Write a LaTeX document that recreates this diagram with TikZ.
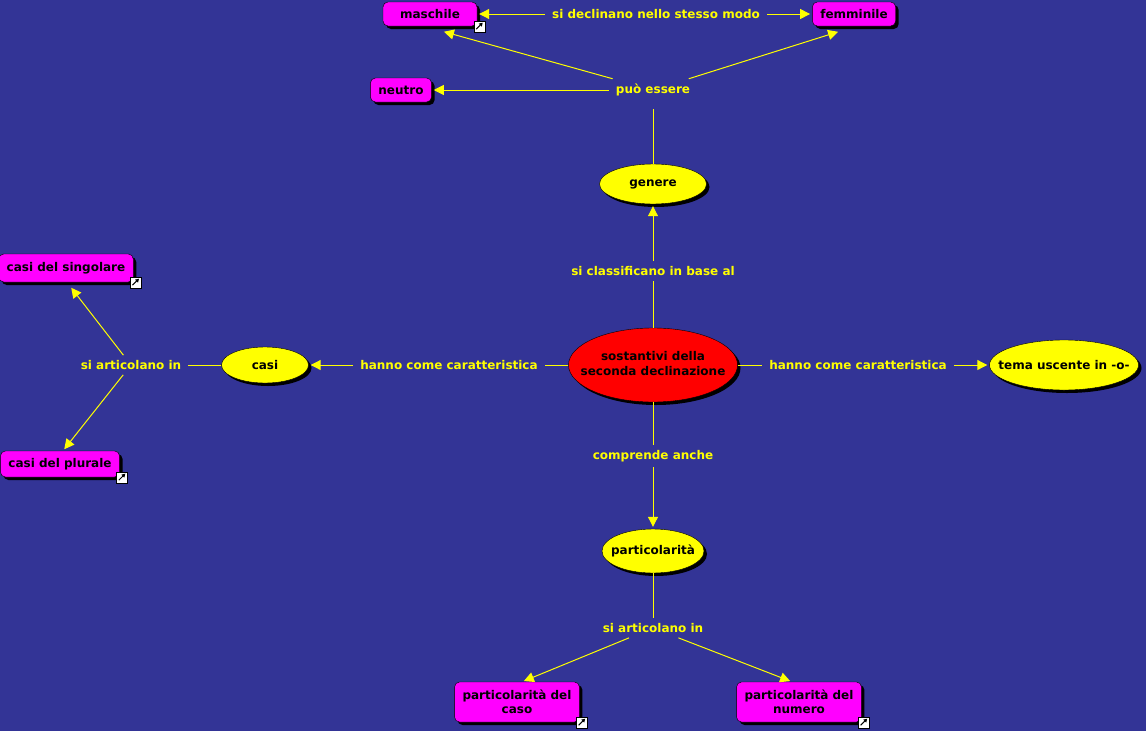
\documentclass[tikz,border=0pt]{standalone}
\usepackage{fontspec}
\setmainfont{DejaVu Sans}
\usetikzlibrary{shapes,arrows.meta,positioning,shadows}
\definecolor{cmapbg}{RGB}{51,52,150}
\definecolor{cmapyellow}{RGB}{255,255,0}
\definecolor{cmapmagenta}{RGB}{255,0,255}
\definecolor{cmapred}{RGB}{255,0,0}
\tikzstyle{cmapshadow} = [drop shadow={shadow xshift=3pt, shadow yshift=-3pt, fill=black, opacity=1}]
\tikzstyle{cbox} = [rectangle, draw=black, fill=cmapmagenta, rounded corners=5pt,
    inner xsep=8pt, inner ysep=4pt, minimum height=24pt, align=center, cmapshadow]
\tikzstyle{oval} = [ellipse, draw=black, fill=cmapyellow, inner sep=0pt, cmapshadow,
    execute at begin node={\hbox to 0pt\bgroup\hss}, execute at end node={\hss\egroup}]
\tikzstyle{phrase} = [text=cmapyellow, inner xsep=7pt, inner ysep=5pt]
\tikzstyle{link} = [draw=cmapyellow, line width=1pt]
\tikzstyle{line} = [link, -{Triangle[length=10pt,width=10pt]}, shorten >=2pt]
\tikzstyle{linkicon} = [rectangle, draw=black, fill=white, minimum size=11pt, inner sep=0pt,
    path picture={\draw[black, line width=1pt, -{Triangle[length=3.5pt,width=4pt]}]
      ([shift={(2.5pt,2.5pt)}]path picture bounding box.south west) --
      ([shift={(-2pt,-2pt)}]path picture bounding box.north east);}]

\begin{document}
\begin{tikzpicture}[x=1pt, y=-1pt, on grid, font=\fontsize{12}{14.5}\selectfont\bfseries]
    \useasboundingbox (0,0) rectangle (1146,731);
    \fill[cmapbg] (0,0) rectangle (1146,731);
    % Place nodes
    \node [oval, fill=cmapred, minimum width=169pt, minimum height=74pt] (sost) at (653,365)
      {\begin{tabular}{@{}c@{}}sostantivi della\\seconda declinazione\end{tabular}};
    \node [phrase, above=94pt of sost] (classif) {si classificano in base al};
    \node [oval, above=181pt of sost, minimum width=107pt, minimum height=40pt] (genere) {genere};
    \node [phrase, above=94pt of genere] (puo) {può essere};
    \node [cbox, left=252pt of puo] (neutro) {neutro};
    \node [cbox, above left=76pt and 223pt of puo, minimum width=94pt] (maschile) {maschile};
    \node [cbox, above right=76pt and 201pt of puo] (femminile) {femminile};
    \node [phrase, right=226pt of maschile] (decl) {si declinano nello stesso modo};
    \node [phrase, left=204pt of sost] (hannoL) {hanno come caratteristica};
    \node [oval, left=184pt of hannoL, minimum width=87pt, minimum height=36pt] (casi) {casi};
    \node [phrase, left=134pt of casi] (articL) {si articolano in};
    \node [cbox, above left=97pt and 65pt of articL, minimum height=28pt] (singolare) {casi del singolare};
    \node [cbox, below left=99pt and 71pt of articL, minimum height=26pt] (plurale) {casi del plurale};
    \node [phrase, right=205pt of sost] (hannoR) {hanno come caratteristica};
    \node [oval, right=206pt of hannoR, minimum width=149pt, minimum height=50pt] (tema) {tema uscente in -o-};
    \node [phrase, below=91pt of sost] (compr) {comprende anche};
    \node [oval, below=186pt of sost, minimum width=102pt, minimum height=44pt] (partic) {particolarità};
    \node [phrase, below=77pt of partic] (articB) {si articolano in};
    \node [cbox, below left=74pt and 136pt of articB, minimum width=122pt, minimum height=40pt] (caso) {particolarità del\\caso};
    \node [cbox, below right=74pt and 146pt of articB, minimum width=122pt, minimum height=40pt] (numero) {particolarità del\\numero};
    % Link icons
    \node [linkicon] (iconM) at ([xshift=2pt]maschile.south east) {};
    \node [linkicon] (iconS) at ([xshift=2pt]singolare.south east) {};
    \node [linkicon] (iconP) at ([xshift=2pt]plurale.south east) {};
    \node [linkicon] (iconC) at ([xshift=2pt]caso.south east) {};
    \node [linkicon] (iconN) at ([xshift=2pt]numero.south east) {};
    % Draw edges
    \path [link] (sost) -- (classif);
    \path [line] (classif) -- (genere);
    \path [link, shorten >=8pt] (genere) -- (puo);
    \path [line] (puo) -- (neutro);
    \path [line] (puo) -- ([shift={(12pt,-5pt)}]maschile.south);
    \path [line] (puo) -- ([shift={(-14pt,-5pt)}]femminile.south);
    \path [line] (decl) -- (maschile);
    \path [line] (decl) -- (femminile);
    \path [link] (sost) -- (hannoL);
    \path [line] (hannoL) -- (casi);
    \path [link] (casi) -- (articL);
    \path [line] (articL) -- ([shift={(4pt,-4pt)}]singolare.south);
    \path [line] (articL) -- ([xshift=3pt]plurale.north);
    \path [link] (sost) -- (hannoR);
    \path [line] (hannoR) -- (tema);
    \path [link] (sost) -- (compr);
    \path [line] (compr) -- (partic);
    \path [link] (partic) -- (articB);
    \path [line] (articB) -- ([xshift=5pt]caso.north);
    \path [line] (articB) -- ([xshift=-7pt]numero.north);
\end{tikzpicture}
\end{document}
